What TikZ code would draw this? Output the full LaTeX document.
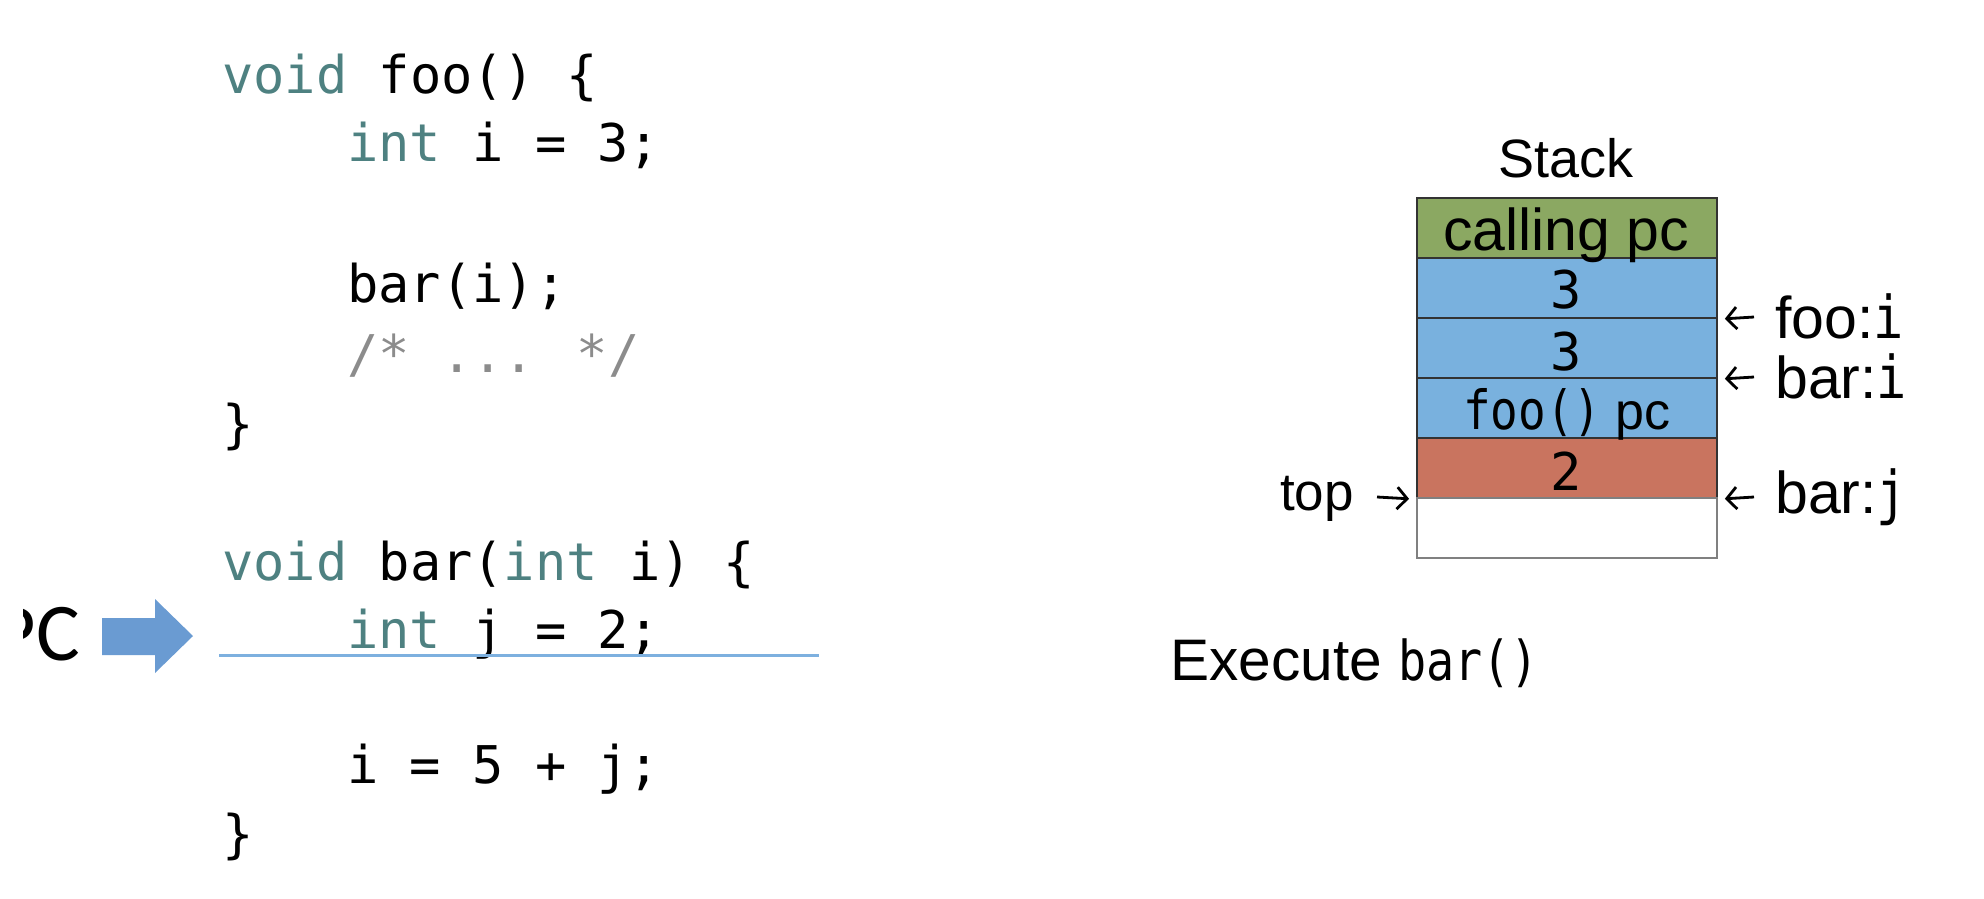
\documentclass[tikz,border=0pt]{standalone}
\usepackage{fontspec}
\setmainfont{Liberation Sans}
\newfontfamily\codefont{DejaVu Sans Mono}
\newfontfamily\codenarrow[FakeStretch=0.85]{DejaVu Sans Mono}
\newfontfamily\pcfont{Carlito}
\usetikzlibrary{arrows.meta}
\definecolor{codeteal}{HTML}{4E8181}
\definecolor{codegray}{HTML}{8C8C8C}
\definecolor{pcblue}{HTML}{6A9BD2}
\definecolor{lineblue}{HTML}{7DB0DF}
\definecolor{stackgreen}{HTML}{8BA862}
\definecolor{stackblue}{HTML}{79B1DE}
\definecolor{stackred}{HTML}{C9745F}
\definecolor{cellline}{HTML}{333333}
\begin{document}
\begin{tikzpicture}[x=1pt,y=-1pt,
  code/.style={anchor=base west, inner sep=0pt, font=\codefont\fontsize{52}{60}\selectfont},
  cell/.style={draw=cellline, line width=1.8pt, minimum width=300pt, minimum height=60pt, inner sep=0pt, anchor=north west},
  celltext/.style={anchor=base, inner sep=0pt, font=\codefont\fontsize{52}{60}\selectfont},
  sanslabel/.style={anchor=base west, inner sep=0pt, font=\fontsize{59}{66}\selectfont},
  ptr/.style={line width=2.8pt, -{Straight Barb[length=10pt,width=22pt,line width=2.8pt]}},
]
\useasboundingbox (0,0) rectangle (1984,898);

% ---- code ----
\node[code] (l0) at (222,93) {\textcolor{codeteal}{void} foo() \{};
\node[code] (l1) at (347,161) {\textcolor{codeteal}{int} i = 3;};
\node[code] (l3) at (347,302) {bar(i);};
\node[code, text=codegray] (l4) at (347,372) {/* ... */};
\node[code] (l5) at (222,442) {\}};
\node[code] (l7) at (222,580) {\textcolor{codeteal}{void} bar(\textcolor{codeteal}{int} i) \{};
\node[code] (l8) at (347,648) {\textcolor{codeteal}{int} j = 2;};
\node[code] (l10) at (347,783) {i = 5 + j;};
\node[code] (l11) at (222,852) {\}};

% ---- PC marker (cut at the left, as in the slide) ----
\begin{scope}
\clip (23,560) rectangle (100,720);
\node[anchor=base east, inner sep=0pt, font=\pcfont\fontsize{82}{88}\selectfont] (pc) at (80,660) {PC};
\end{scope}
\fill[pcblue] (102,618) -- (155,618) -- (155,599) -- (193,636) -- (155,673) -- (155,655) -- (102,655) -- cycle;
\coordinate (pcl1) at (219,655);
\coordinate (pcl2) at (819,655);
\draw[lineblue, line width=3pt] (pcl1) -- (pcl2);

% ---- stack ----
\node[anchor=base, inner sep=0pt, font=\fontsize{54}{60}\selectfont] (stk) at (1566,177) {Stack};
\node[cell, fill=stackgreen] (c1) at (1416,197) {};
\node[cell, fill=stackblue] (c2) at (1416,257) {};
\node[cell, fill=stackblue] (c3) at (1416,317) {};
\node[cell, fill=stackblue] (c4) at (1416,377) {};
\node[cell, fill=stackred] (c5) at (1416,437) {};
\node[cell, fill=white, draw=gray] (c6) at (1416,497) {};

\node[anchor=base, inner sep=0pt, font=\fontsize{59}{64}\selectfont] (t1) at (1566,250) {calling pc};
\node[celltext] (t2) at (1566,308) {3};
\node[celltext] (t3) at (1566,370) {3};
\node[anchor=base, inner sep=0pt, font=\fontsize{52}{60}\selectfont] (t4) at (1567,429) {{\codenarrow\fontsize{54}{60}\selectfont foo()} pc};
\node[celltext] (t5) at (1566,490) {2};

% labels right
\node[sanslabel] (lfoo) at (1775,338) {foo:{\codenarrow i}};
\node[sanslabel] (lbari) at (1775,398) {bar:{\codenarrow i}};
\node[sanslabel] (lbarj) at (1775,513) {bar:{\codenarrow j}};
\coordinate (afoo) at (1754,317);
\coordinate (abari) at (1754,377);
\coordinate (abarj) at (1754,497);
\draw[ptr] (afoo) -- ([xshift=7pt]c2.south east);
\draw[ptr] (abari) -- ([xshift=7pt]c3.south east);
\draw[ptr] (abarj) -- ([xshift=7pt]c5.south east);

% label left
\node[anchor=base west, inner sep=0pt, font=\fontsize{53}{60}\selectfont] (ltop) at (1280,510) {top};
\coordinate (atop) at (1377,497);
\draw[ptr] (atop) -- ([xshift=-7pt]c5.south west);

% caption
\node[anchor=base west, inner sep=0pt, font=\fontsize{58.6}{64}\selectfont] (cap) at (1170,680) {Execute {\codenarrow\fontsize{55}{60}\selectfont bar()}};
\end{tikzpicture}
\end{document}
